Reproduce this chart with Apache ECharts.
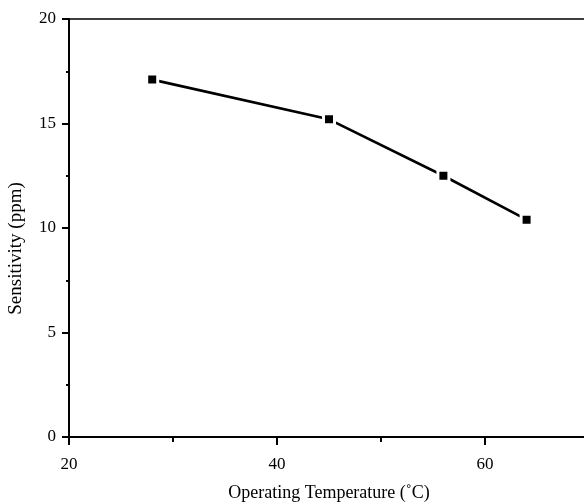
<!DOCTYPE html>
<html>
<head>
<meta charset="utf-8">
<script src="https://cdn.jsdelivr.net/npm/echarts@6/dist/echarts.min.js"></script>
<style>
  html, body { margin: 0; padding: 0; background: #fff; }
  #charts { width: 584px; height: 504px; }
</style>
</head>
<body>
<div id="charts"></div>
<script>
  // values
  var temps = [28, 45, 56, 64];
  var sensitivity = [17.1, 15.2, 12.5, 10.4];

  var points = temps.map(function (t, i) { return [t, sensitivity[i]]; });
  var font = '"Liberation Serif", "DejaVu Serif", serif';

  var option = {
    backgroundColor: '#fff',
    animation: false,
    grid: {
      left: 69,
      width: 520,
      top: 19,
      bottom: 67,
      outerBoundsMode: 'none',
      show: true,
      borderColor: '#000',
      borderWidth: 1.5,
      backgroundColor: 'transparent'
    },
    xAxis: {
      type: 'value',
      min: 20,
      max: 70,
      interval: 20,
      name: 'Operating Temperature (˚C)',
      nameLocation: 'middle',
      nameGap: 47,
      nameTextStyle: { fontFamily: font, fontSize: 18, color: '#000' },
      axisLine: { show: true, lineStyle: { color: '#000', width: 2 } },
      axisTick: { show: true, length: 8, lineStyle: { color: '#000', width: 2 } },
      minorTick: { show: true, splitNumber: 2, length: 5, lineStyle: { color: '#000', width: 2 } },
      splitLine: { show: false },
      axisLabel: { margin: 19, fontFamily: font, fontSize: 17, color: '#000', showMaxLabel: false }
    },
    yAxis: {
      type: 'value',
      min: 0,
      max: 20,
      interval: 5,
      name: 'Sensitivity (ppm)',
      nameLocation: 'middle',
      nameGap: 43,
      nameTextStyle: { fontFamily: font, fontSize: 19, color: '#000', padding: [0, 41, 0, 0] },
      axisLine: { show: true, lineStyle: { color: '#000', width: 2 } },
      axisTick: { show: true, length: 7, lineStyle: { color: '#000', width: 2 } },
      minorTick: { show: true, splitNumber: 2, length: 3, lineStyle: { color: '#000', width: 2 } },
      splitLine: { show: false },
      axisLabel: { margin: 13, fontFamily: font, fontSize: 17, color: '#000' }
    },
    series: [
      {
        type: 'line',
        data: points,
        symbol: 'rect',
        symbolSize: 11,
        itemStyle: { color: '#000', borderColor: '#fff', borderWidth: 3 },
        lineStyle: { color: '#000', width: 2.6 }
      }
    ]
  };

  var myChart = echarts.init(document.getElementById('charts'));
  myChart.setOption(option);
</script>
</body>
</html>
